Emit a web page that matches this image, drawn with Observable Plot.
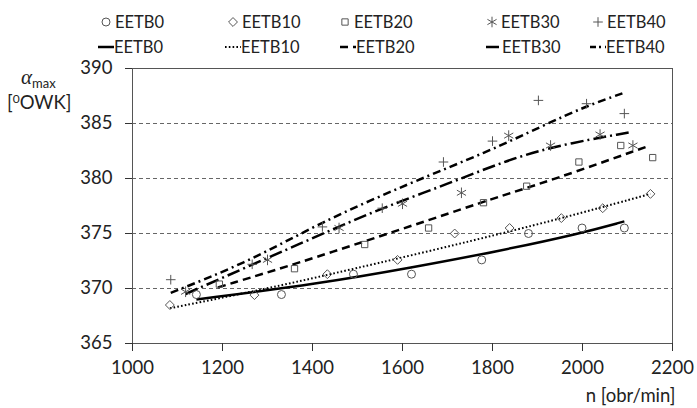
<!DOCTYPE html>
<html><head><meta charset="utf-8">
<script src="https://cdn.jsdelivr.net/npm/d3@7"></script>
<script src="https://cdn.jsdelivr.net/npm/@observablehq/plot@0.6"></script>
<style>
body{margin:0;background:#fff;font-family:Lato,"Open Sans",sans-serif;}
#wrap{position:relative;width:697px;height:408px;overflow:hidden;}
#legend{position:relative;height:58px;width:697px;}
.li{position:absolute;display:flex;align-items:center;font-size:16.5px;color:#222;line-height:1;white-space:nowrap;}
#ylab{position:absolute;left:7px;top:64px;font-size:18.5px;color:#222;line-height:1.25;}
#ylab .a{font-family:"Liberation Serif",serif;font-style:italic;font-size:21px;margin-left:14px;}
#ylab sub{font-size:13px;vertical-align:-4px;}
#ylab sup{font-size:12px;vertical-align:6px;}
</style></head><body>
<div id="wrap"><div id="legend"></div><div id="chart"></div>
<div id="ylab"><span class="a">α</span><sub>max</sub><br>[<sup>0</sup>OWK]</div></div>
<script>
// ---- data ----
const seriesNames = ["EETB0","EETB10","EETB20","EETB30","EETB40"];
const b0N  = [1142,1331,1491,1620,1776,1880,1999,2093];
const b0V  = [369.45,369.45,371.3,371.3,372.6,375.0,375.5,375.5];
const b10N = [1083,1271,1433,1589,1716,1838,1953,2045,2151];
const b10V = [368.5,369.4,371.3,372.6,375.0,375.5,376.4,377.3,378.6];
const b20N = [1193,1360,1516,1658,1780,1876,1992,2085,2156];
const b20V = [370.4,371.8,374.0,375.5,377.8,379.3,381.5,383.0,381.9];
const b30N = [1118,1300,1459,1600,1731,1836,1929,2039,2112];
const b30V = [369.7,372.6,375.5,377.7,378.7,383.9,383.0,384.0,383.0];
const b40N = [1085,1266,1422,1555,1691,1800,1902,2009,2093];
const b40V = [370.8,372.2,375.6,377.3,381.5,383.4,387.1,386.8,385.9];
// trend lines
const t0N  = [1142,1417,1620,1814,1995,2093];
const t0V  = [369.0,370.45,371.9,373.4,375.0,376.1];
const t10N = [1083,1300,1440,1650,1860,2000,2151];
const t10V = [368.2,370.0,371.3,373.3,375.4,376.9,378.6];
const t20N = [1190,1417,1816,1929,2143];
const t20V = [370.1,372.9,378.4,379.8,382.9];
const t30N = [1118,1307,1457,1567,1700,1816,1929,2105];
const t30V = [369.5,372.9,375.6,377.5,379.5,381.4,382.9,384.2];
const t40N = [1085,1262,1417,1617,1788,1912,2009,2093];
const t40V = [369.6,372.5,376.0,379.6,382.4,384.8,386.6,387.8];
const xTicks = [1000,1200,1400,1600,1800,2000,2200];
const yTicks = [365,370,375,380,385,390];
const gridVals = [370,375,380,385];
const xTitle = "n [obr/min]";

// ---- styles ----
const symbols = ["circle","diamond2","square2","asterisk","plus"];
const symR = [4,4,4,5,3.2];
const dashes = [null,"1.6,2.2","8,5","13,4,2,4","8,4,2,4"];
const widths = [2.5,2,2.5,2.5,2.5];
const pts = [[b0N,b0V],[b10N,b10V],[b20N,b20V],[b30N,b30V],[b40N,b40V]];
const trends = [[t0N,t0V],[t10N,t10V],[t20N,t20V],[t30N,t30V],[t40N,t40V]];
const mk = (N,V,s) => N.map((n,i)=>({n, v:V[i], s}));

const marks = [
  Plot.ruleY(gridVals,{stroke:"#666", strokeDasharray:"4,3", strokeWidth:1}),
  Plot.frame({stroke:"#555"}),
  Plot.axisY({ticks:yTicks, tickSize:7, tickPadding:13, label:null, fontSize:18.5, stroke:"#333"}),
  Plot.axisX({ticks:xTicks, tickFormat:d3.format("d"), tickSize:8, tickPadding:9, label:null, fontSize:18.5, stroke:"#333"}),
  Plot.text([xTitle], {frameAnchor:"bottom-right", textAnchor:"end", dx:3, dy:58, fontSize:18.5, fill:"#222"})
];
trends.forEach(([N,V],k)=>{
  marks.push(Plot.line(mk(N,V,seriesNames[k]),{x:"n", y:"v", curve:"basis", stroke:"#000",
    strokeWidth:widths[k], strokeDasharray:dashes[k], strokeLinecap:"butt"}));
});
pts.forEach(([N,V],k)=>{
  marks.push(Plot.dot(mk(N,V,seriesNames[k]),{x:"n", y:"v", symbol:()=>symbols[k], r:symR[k],
    stroke:"#555", strokeWidth:1, fill:"none"}));
});

const chart = Plot.plot({
  width:697, height:350,
  marginTop:10, marginBottom:65, marginLeft:132, marginRight:25,
  style:{fontFamily:"Lato, 'Open Sans', sans-serif", fontSize:"18px", color:"#222", background:"#fff", overflow:"visible"},
  x:{domain:[1000,2200]},
  y:{domain:[365,390]},
  symbol:{type:"identity"},
  marks
});
document.getElementById("chart").appendChild(chart);

// ---- legend ----
const leg = document.getElementById("legend");
const row1Left = [100,227,339,486,592];
const row2Left = [98,225,340,486,590];
const symMap = {circle:d3.symbolCircle, diamond2:d3.symbolDiamond2, square2:d3.symbolSquare2, asterisk:d3.symbolAsterisk, plus:d3.symbolPlus};
seriesNames.forEach((name,k)=>{
  const a = document.createElement("div");
  a.className="li"; a.style.left=row1Left[k]+"px"; a.style.top="14px";
  const p = d3.symbol(symMap[symbols[k]], Math.PI*symR[k]*symR[k])();
  a.innerHTML = `<svg width="12" height="12" style="margin-right:3px"><path transform="translate(6,6)" d="${p}" fill="none" stroke="#555" stroke-width="1"/></svg>${name}`;
  leg.appendChild(a);
  const b = document.createElement("div");
  b.className="li"; b.style.left=row2Left[k]+"px"; b.style.top="39px";
  b.innerHTML = `<svg width="16" height="8"><line x1="0" y1="4" x2="16" y2="4" stroke="#000" stroke-width="${widths[k]}" ${dashes[k]?`stroke-dasharray="${k===4?"6,3,2,4":dashes[k]}"`:""}/></svg>${name}`;
  leg.appendChild(b);
});
</script>
</body></html>
